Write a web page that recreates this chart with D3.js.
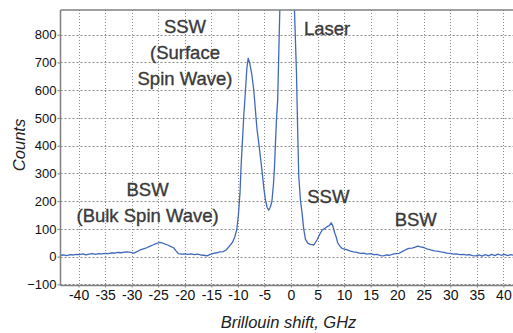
<!DOCTYPE html>
<html>
<head>
<meta charset="utf-8">
<script src="https://cdn.jsdelivr.net/npm/d3@7"></script>
<style>
  body { margin: 0; background: #fff; }
  svg { display: block; font-family: "Liberation Sans", Arial, sans-serif; }
</style>
</head>
<body>
<figure id="spectrum" style="margin:0"></figure>
<script>
// Brillouin spectrum, values
const shift = [
  -43.4, -42.8, -42.2, -41.6, -41, -40.4, -39.8, -39.2, -38.6, -38, -37.4, -36.8, -36.2, -35.6, -35,
  -34.4, -33.8, -33.2, -32.6, -32, -31.4, -30.8, -30.2, -29.6, -29, -28.4, -27.8, -27.2, -26.6, -26,
  -25.4, -24.8, -24.3, -23.8, -23.2, -22.6, -22.1, -21.6, -21.2, -20.6, -20, -19.4, -18.8, -18.2, -17.6,
  -17, -16.4, -15.8, -15.2, -14.6, -14, -13.4, -12.8, -12.2, -11.6, -11, -10.6, -10.2, -9.9, -9.6,
  -9.4, -9.1, -8.9, -8.6, -8.3, -8.06, -7.8, -7.4, -7, -6.7, -6.4, -6.06, -5.7, -5.4, -5.1,
  -4.8, -4.5, -4.2, -3.9, -3.6, -3.3, -3.1, -2.9, -2.7, -2.5, -2.3, -2.1, -1.9, -0.8, 0.4,
  0.66, 1.04, 1.28, 1.47, 1.8, 2.1, 2.4, 2.73, 3.2, 3.67, 4.3, 4.9, 5.4, 5.9, 6.4,
  6.8, 7.2, 7.57, 7.9, 8.2, 8.5, 8.8, 9.2, 9.6, 10.1, 10.6, 11.2, 11.8, 12.4, 13.1,
  13.7, 14.3, 15, 15.6, 16.2, 16.9, 17.4, 18, 18.6, 19.2, 19.8, 20.4, 21, 21.6, 22.2,
  22.8, 23.4, 23.9, 24.4, 25, 25.6, 26.3, 27, 27.6, 28.2, 28.8, 29.4, 30, 30.6, 31.2,
  31.8, 32.4, 33, 33.6, 34.2, 34.8, 35.4, 36, 36.6, 37.2, 37.8, 38.4, 39, 39.6, 40.2,
  40.8, 41.4, 42
];
const counts = [
  5, 6, 4, 7, 6, 8, 7, 10, 6, 9, 11, 8, 11, 10, 12,
  11, 14, 13, 15, 14, 16, 17, 15, 13, 18, 24, 28, 32, 37, 42,
  47, 51, 50, 46, 42, 36, 32, 20, 11, 9, 10, 8, 10, 7, 9,
  6, 5, 3, 8, 12, 14, 17, 18, 24, 38, 52, 70, 98, 150, 230,
  324, 430, 504, 590, 680, 715, 700, 660, 600, 529, 460, 409, 350, 300, 245,
  204, 178, 167, 178, 198, 260, 324, 420, 504, 565, 730, 889, 1250, 1600, 1040,
  889, 660, 440, 290, 200, 156, 100, 62, 48, 44, 42, 60, 80, 96, 102,
  108, 112, 122, 110, 88, 72, 50, 38, 30, 27, 24, 20, 17, 15, 12,
  13, 9, 11, 7, 8, 4, 3, 6, 5, 9, 11, 12, 19, 25, 30,
  31, 34, 38, 35, 33, 28, 24, 21, 20, 17, 15, 13, 12, 9, 10,
  7, 8, 6, 7, 4, 3, 6, 2, 7, 3, 8, 4, 9, 5, 8,
  4, 7, 5
];
const xTicks = [-40, -35, -30, -25, -20, -15, -10, -5, 0, 5, 10, 15, 20, 25, 30, 35, 40];
const yTicks = [-100, 0, 100, 200, 300, 400, 500, 600, 700, 800];

// peak labels: text lines, anchor point in data units
const labels = [
  { lines: ["SSW", "(Surface", "Spin Wave)"], x: -19.96, y: 805, anchor: "middle" },
  { lines: ["Laser"], x: 2.45, y: 799, anchor: "start" },
  { lines: ["BSW", "(Bulk Spin Wave)"], x: -27.0, y: 219, anchor: "middle" },
  { lines: ["SSW"], x: 7.03, y: 192, anchor: "middle" },
  { lines: ["BSW"], x: 23.5, y: 112, anchor: "middle" }
];

const width = 513, height = 333;
const plotLeft = 60.5, plotRight = 514, plotTop = 10, plotBottom = 285.5;

const svg = d3.select("figure#spectrum")
  .append("svg")
  .attr("width", width)
  .attr("height", height);

const x = d3.scaleLinear().domain([-43.4, 42]).range([plotLeft, plotRight]);
const y = d3.scaleLinear().domain([-104, 889]).range([plotBottom, plotTop]);

// grid
svg.append("g")
  .selectAll("line")
  .data(xTicks)
  .enter()
  .append("line")
  .attr("x1", d => Math.round(x(d)) + 0.5)
  .attr("x2", d => Math.round(x(d)) + 0.5)
  .attr("y1", plotTop)
  .attr("y2", plotBottom)
  .attr("stroke", "#8a8a8a")
  .attr("stroke-dasharray", "1,2");

svg.append("g")
  .selectAll("line")
  .data(yTicks)
  .enter()
  .append("line")
  .attr("x1", plotLeft)
  .attr("x2", plotRight)
  .attr("y1", d => Math.round(y(d)) + 0.5)
  .attr("y2", d => Math.round(y(d)) + 0.5)
  .attr("stroke", "#8a8a8a")
  .attr("stroke-dasharray", "2,2");

// spectrum line
svg.append("clipPath").attr("id", "plotClip")
  .append("rect")
  .attr("x", plotLeft).attr("y", plotTop)
  .attr("width", plotRight - plotLeft).attr("height", plotBottom - plotTop);

const line = d3.line()
  .x(d => x(d[0]))
  .y(d => y(d[1]));

svg.append("path")
  .datum(d3.zip(shift, counts))
  .attr("clip-path", "url(#plotClip)")
  .attr("fill", "none")
  .attr("stroke", "#4169bb")
  .attr("stroke-width", 1.3)
  .attr("stroke-linejoin", "round")
  .attr("d", line);

// frame
svg.append("line")
  .attr("x1", plotLeft).attr("x2", plotRight)
  .attr("y1", plotTop).attr("y2", plotTop)
  .attr("stroke", "#808080").attr("stroke-width", 1.5);

// axes
const yAxis = svg.append("g")
  .attr("transform", "translate(" + plotLeft + ",0)")
  .call(d3.axisLeft(y).tickValues(yTicks).tickSize(3).tickPadding(1));
yAxis.select(".domain").attr("stroke", "#808080").attr("stroke-width", 1.5)
  .attr("d", "M0," + plotTop + "V" + plotBottom);
yAxis.selectAll(".tick line").attr("stroke", "#808080");
yAxis.selectAll(".tick text")
  .attr("fill", "#111")
  .style("font-size", "13px");

const xAxis = svg.append("g")
  .attr("transform", "translate(0," + plotBottom + ")")
  .call(d3.axisBottom(x).tickValues(xTicks).tickSize(2).tickPadding(2.5));
xAxis.select(".domain").attr("stroke", "#808080").attr("stroke-width", 1.5)
  .attr("d", "M" + plotLeft + ",0H" + plotRight);
xAxis.selectAll(".tick line").attr("stroke", "#808080");
xAxis.selectAll(".tick text")
  .attr("fill", "#111")
  .style("font-size", "14px")
  .text(d => d < 0 ? "-" + Math.abs(d) : d);

// axis titles
svg.append("text")
  .attr("transform", "translate(25,145) rotate(-90)")
  .attr("text-anchor", "middle")
  .attr("fill", "#222")
  .style("font-size", "16.5px")
  .style("font-style", "italic")
  .text("Counts");

svg.append("text")
  .attr("x", 288.5)
  .attr("y", 328)
  .attr("text-anchor", "middle")
  .attr("fill", "#222")
  .style("font-size", "16.5px")
  .style("font-style", "italic")
  .text("Brillouin shift, GHz");

// peak labels
labels.forEach(l => {
  const t = svg.append("text")
    .attr("text-anchor", l.anchor)
    .attr("fill", "#3a3a3a")
    .attr("stroke", "#3a3a3a")
    .attr("stroke-width", 0.35)
    .style("font-size", "18.5px");
  l.lines.forEach((s, i) => {
    t.append("tspan")
      .attr("x", x(l.x))
      .attr("y", y(l.y) + i * 25.8)
      .text(s);
  });
});
</script>
</body>
</html>
